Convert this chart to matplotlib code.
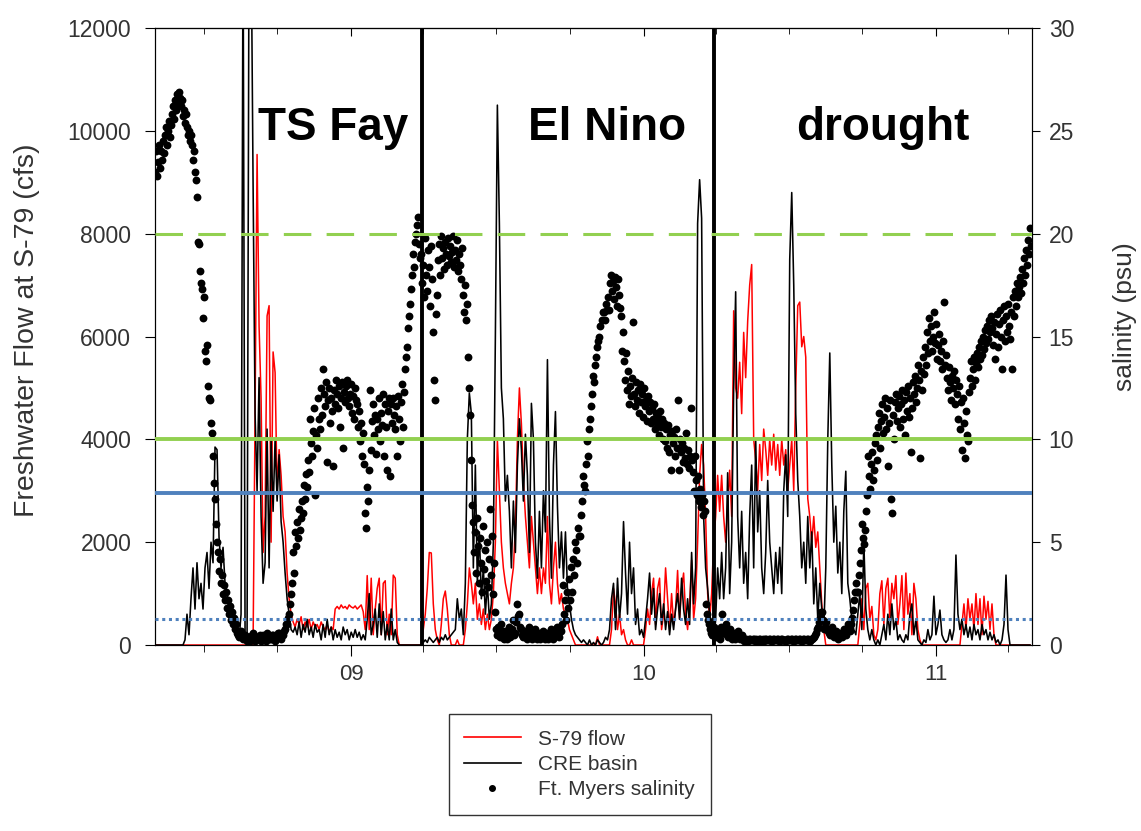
import numpy as np
import pandas as pd
import matplotlib
matplotlib.use('Agg')
import matplotlib.pyplot as plt
import matplotlib.dates as mdates
from matplotlib.lines import Line2D

plt.rcParams['font.family'] = ['Liberation Sans', 'DejaVu Sans']

start = '2008-05-01'

# Ft. Myers salinity (psu), one reading every 30 h
salinity = [
    23.0, 24.0, 22.8, 23.5, 24.3, 23.2, 24.0, 23.6, 24.5, 23.9, 24.8, 25.2, 24.3, 25.0, 25.5, 24.7, 25.3, 25.8, 26.2, 25.6,
    26.5, 26.0, 26.8, 26.3, 26.9, 26.6, 26.2, 26.5, 25.7, 26.0, 25.4, 25.8, 25.2, 24.8, 25.0, 24.5, 24.8, 24.3, 23.6, 24.0,
    23.0, 22.6, 21.8, 19.6, 19.5, 18.2, 17.6, 17.3, 15.9, 16.9, 14.3, 13.8, 14.6, 12.6, 12.0, 11.9, 10.8, 10.3, 9.2, 7.9,
    7.1, 5.9, 5.0, 4.5, 3.6, 4.2, 3.0, 3.4, 2.5, 2.9, 2.2, 2.6, 1.8, 2.2, 1.5, 1.9, 1.2, 1.6, 1.0, 1.3,
    0.8, 1.0, 0.6, 0.5, 0.4, 0.6, 0.7, 0.4, 0.3, 0.5, 0.5, 0.3, 0.2, 0.4, 0.4, 0.2, 0.3, 0.5, 0.6, 0.3,
    0.2, 0.4, 0.4, 0.3, 0.3, 0.5, 0.2, 0.3, 0.5, 0.4, 0.3, 0.2, 0.6, 0.4, 0.4, 0.3, 0.3, 0.5, 0.5, 0.3,
    0.2, 0.4, 0.4, 0.6, 0.6, 0.4, 0.3, 0.5, 0.5, 0.7, 0.8, 1.0, 1.0, 1.3, 1.5, 2.0, 2.5, 3.0, 4.5, 3.5,
    5.5, 4.8, 6.0, 5.2, 6.6, 5.6, 6.2, 7.0, 6.4, 7.8, 7.1, 8.3, 7.7, 9.0, 8.4, 11.0, 9.8, 9.2, 10.4, 11.5,
    7.3, 10.2, 9.6, 12.0, 11.0, 10.5, 12.5, 11.2, 13.4, 12.2, 11.6, 12.8, 8.9, 11.9, 12.5, 10.8, 12.0, 11.4, 8.7, 12.4,
    11.7, 12.9, 12.2, 11.5, 12.6, 10.6, 12.0, 12.8, 9.6, 12.3, 11.8, 12.6, 12.9, 12.0, 11.6, 12.2, 12.7, 11.3, 12.1, 11.0,
    12.5, 11.9, 11.7, 10.6, 11.4, 9.9, 10.8, 9.2, 10.3, 8.8, 6.4, 5.7, 7.7, 7.0, 8.5, 12.4, 9.5, 10.9, 11.7, 10.2,
    11.2, 9.3, 11.0, 10.5, 12.0, 9.9, 11.3, 10.7, 12.2, 9.2, 11.7, 10.6, 8.5, 11.4, 12.0, 8.2, 11.7, 10.8, 12.0, 11.2,
    10.5, 11.6, 9.2, 12.1, 11.0, 9.9, 11.8, 12.7, 10.6, 12.3, 13.4, 14.0, 14.5, 15.4, 16.0, 16.6, 17.3, 18.0, 19.0, 18.4,
    19.6, 20.0, 20.4, 20.8, 19.5, 18.8, 19.0, 17.6, 18.5, 16.9, 19.8, 18.0, 17.2, 19.2, 18.4, 16.5, 19.4, 17.8, 15.2, 12.9,
    11.9, 16.1, 17.0, 18.7, 19.5, 18.0, 19.9, 18.8, 19.3, 18.3, 19.6, 19.0, 18.5, 19.8, 18.9, 19.4, 18.6, 19.1, 19.9, 18.4,
    19.2, 18.7, 19.7, 18.2, 19.0, 18.5, 17.8, 19.3, 17.0, 16.2, 17.5, 15.8, 16.6, 14.0, 12.5, 11.2, 9.0, 6.8, 6.0, 4.5,
    5.5, 3.5, 6.2, 4.8, 3.0, 5.2, 4.0, 2.6, 5.8, 3.7, 4.6, 3.1, 5.0, 2.8, 4.2, 6.6, 3.4, 5.3, 2.5, 4.0,
    1.6, 0.8, 0.5, 0.9, 0.6, 0.4, 1.0, 0.7, 0.4, 0.3, 0.7, 0.5, 0.3, 0.6, 0.9, 0.4, 0.5, 0.8, 1.2, 0.5,
    0.6, 1.1, 2.0, 1.4, 1.5, 0.9, 0.8, 0.5, 0.4, 0.6, 0.7, 0.4, 0.3, 0.5, 0.9, 0.6, 0.5, 0.3, 0.4, 0.6,
    0.8, 0.5, 0.3, 0.4, 0.6, 0.3, 0.4, 0.6, 0.7, 0.5, 0.3, 0.4, 0.6, 0.3, 0.4, 0.5, 0.8, 0.4, 0.3, 0.6,
    0.5, 0.7, 0.9, 0.5, 0.4, 0.8, 0.7, 1.0, 2.9, 1.5, 2.2, 1.2, 2.6, 1.8, 3.2, 2.2, 3.8, 2.6, 4.2, 3.4,
    5.0, 4.6, 4.0, 5.7, 5.3, 5.3, 6.3, 7.0, 8.2, 7.8, 7.5, 8.8, 9.9, 9.2, 10.5, 11.0, 11.6, 12.2, 13.1, 12.8,
    13.6, 14.0, 14.5, 14.8, 15.0, 15.5, 15.8, 16.2, 16.2, 15.8, 16.6, 16.3, 16.9, 16.3, 17.6, 18.0, 17.2, 17.7, 16.8, 17.9,
    17.4, 16.5, 17.8, 17.0, 16.4, 16.0, 14.3, 15.2, 13.8, 12.9, 14.2, 12.4, 13.3, 11.7, 12.6, 12.1, 13.0, 15.7, 12.2, 11.6,
    12.8, 11.9, 12.4, 11.3, 12.7, 11.8, 12.2, 11.1, 12.5, 11.6, 11.9, 10.9, 12.1, 11.4, 11.8, 10.8, 11.5, 11.0, 11.7, 10.5,
    11.3, 10.8, 11.1, 10.2, 11.4, 10.6, 11.0, 10.0, 10.8, 9.9, 10.5, 9.6, 10.7, 9.4, 10.2, 8.5, 10.4, 9.8, 10.1, 9.2,
    10.5, 9.6, 11.9, 8.5, 10.0, 9.4, 9.8, 8.9, 9.6, 9.1, 10.3, 8.8, 9.5, 8.6, 9.2, 11.5, 9.0, 8.4, 7.5, 9.2,
    8.0, 7.3, 8.2, 7.0, 7.6, 6.7, 7.3, 6.3, 7.0, 6.5, 2.0, 1.5, 1.2, 1.0, 0.8, 0.6, 0.5, 0.7, 0.9, 0.6,
    0.4, 0.5, 0.7, 0.4, 0.3, 0.9, 1.5, 0.8, 0.6, 0.7, 1.0, 0.5, 0.4, 0.6, 0.8, 0.4, 0.3, 0.5, 0.6, 0.3,
    0.4, 0.5, 0.7, 0.4, 0.3, 0.4, 0.5, 0.3, 0.2, 0.3, 0.3, 0.2, 0.2, 0.3, 0.3, 0.25, 0.25, 0.3, 0.3, 0.2,
    0.3, 0.25, 0.2, 0.3, 0.3, 0.2, 0.25, 0.3, 0.2, 0.3, 0.3, 0.25, 0.25, 0.3, 0.3, 0.2, 0.2, 0.3, 0.3, 0.25,
    0.25, 0.3, 0.3, 0.2, 0.2, 0.3, 0.3, 0.25, 0.25, 0.2, 0.2, 0.3, 0.3, 0.25, 0.25, 0.3, 0.3, 0.2, 0.2, 0.3,
    0.3, 0.25, 0.25, 0.3, 0.3, 0.2, 0.2, 0.3, 0.3, 0.25, 0.25, 0.3, 0.3, 0.2, 0.2, 0.3, 0.3, 0.35, 0.4, 0.5,
    0.6, 0.8, 0.9, 1.1, 1.3, 1.6, 1.6, 1.2, 0.8, 0.9, 1.1, 0.8, 0.7, 0.6, 0.5, 0.7, 0.9, 0.6, 0.4, 0.5,
    0.7, 0.5, 0.3, 0.4, 0.6, 0.5, 0.4, 0.6, 0.8, 0.6, 0.5, 0.7, 1.0, 0.8, 0.7, 1.0, 1.3, 1.7, 2.2, 2.6,
    3.0, 2.6, 2.6, 3.4, 4.0, 4.6, 5.9, 5.2, 4.9, 5.6, 6.5, 7.3, 9.2, 8.2, 7.6, 8.8, 9.4, 8.0, 8.5, 9.8,
    10.2, 9.0, 10.6, 11.3, 9.6, 10.9, 11.7, 10.3, 11.1, 12.0, 10.5, 11.5, 8.7, 10.8, 11.9, 7.1, 6.4, 11.2, 10.0, 11.8,
    12.2, 10.9, 11.5, 12.1, 10.6, 11.7, 12.4, 11.0, 11.9, 10.2, 12.3, 11.4, 12.6, 11.1, 12.0, 9.4, 11.5, 12.8, 12.2, 13.1,
    11.8, 12.5, 13.6, 12.9, 9.1, 13.3, 12.4, 14.0, 13.2, 14.5, 13.6, 15.2, 14.2, 15.9, 14.8, 15.5, 14.3, 15.0, 16.2, 14.7,
    15.6, 13.9, 14.6, 15.1, 13.8, 14.3, 13.4, 14.8, 16.7, 13.6, 14.1, 13.0, 12.4, 13.5, 12.8, 11.9, 13.1, 12.5, 13.3, 11.7,
    12.9, 12.2, 11.0, 12.6, 10.5, 11.8, 9.5, 12.0, 10.8, 9.1, 11.4, 10.2, 9.9, 12.3, 13.0, 13.8, 12.6, 13.4, 14.0, 12.9,
    13.7, 14.2, 13.5, 14.5, 13.9, 14.8, 14.1, 15.0, 14.4, 15.3, 14.7, 15.5, 14.9, 15.8, 15.2, 16.0, 15.4, 14.6, 15.7, 13.9,
    15.1, 16.1, 14.5, 15.6, 16.3, 15.0, 13.4, 15.8, 16.5, 14.8, 16.0, 15.2, 16.6, 15.5, 14.9, 16.2, 13.4, 16.9, 16.0, 17.2,
    16.5, 17.6, 16.9, 17.4, 17.9, 17.1, 18.3, 17.6, 18.8, 18.0, 19.2, 18.5, 19.7, 19.0, 20.3, 19.4,
]

# CRE basin flow (cfs), one reading every 60 h
cre_flow = [
    0, 0, 0, 0, 0, 0, 0, 0, 0, 0,
    0, 0, 0, 0, 0, 100, 600, 200, 900, 1500,
    700, 1600, 900, 1200, 700, 1500, 1800, 1100, 2000, 1600,
    3850, 3800, 2100, 1500, 1900, 1200, 1000, 800, 600, 400,
    250, 150, 100, 600, 14000, 200, 100, 14000, 14000, 9000,
    4500, 3000, 5200, 2500, 1200, 1600, 4200, 1500, 4000, 2600,
    4000, 2800, 3700, 2400, 2000, 1400, 900, 600, 300, 250,
    350, 200, 450, 150, 400, 250, 500, 200, 350, 150,
    400, 250, 300, 100, 400, 150, 500, 200, 350, 100,
    300, 150, 250, 100, 350, 200, 300, 100, 250, 150,
    300, 150, 250, 100, 200, 100, 500, 1000, 200, 400,
    700, 150, 800, 200, 650, 100, 400, 100, 700, 100,
    300, 50, 0, 0, 0, 0, 0, 0, 0, 0,
    0, 0, 0, 0, 50, 100, 50, 150, 100, 50,
    100, 150, 50, 150, 100, 200, 100, 150, 200, 250,
    300, 900, 500, 700, 200, 1200, 4000, 4900, 4500, 1500,
    3500, 1200, 2200, 900, 1500, 600, 1200, 500, 800, 2000,
    6000, 10500, 8200, 5000, 4400, 2800, 3300, 2600, 1500, 2800,
    1800, 3500, 4400, 3800, 2800, 4100, 3300, 1800, 4700, 4000,
    2000, 1300, 2600, 1500, 3000, 2200, 5550, 2500, 1300, 3500,
    4540, 2700, 1500, 2200, 1300, 2200, 1100, 800, 500, 300,
    200, 150, 100, 50, 100, 50, 0, 100, 0, 50,
    0, 100, 50, 0, 50, 150, 100, 300, 900, 1200,
    300, 1300, 500, 1000, 2400, 1400, 600, 2000, 1000, 1500,
    400, 700, 200, 300, 150, 500, 900, 1400, 600, 1100,
    300, 700, 1000, 400, 800, 300, 650, 200, 600, 300,
    700, 1000, 500, 1300, 700, 400, 900, 400, 1800, 800,
    1500, 8200, 9050, 8300, 2500, 1500, 1100, 600, 300, 0,
    500, 1500, 900, 1800, 900, 1500, 3350, 1000, 2000, 5000,
    6870, 2500, 1500, 2600, 1200, 1800, 900, 2500, 3500, 1500,
    4000, 2200, 3000, 1500, 1000, 1800, 3200, 2000, 1500, 1000,
    1800, 1200, 1900, 1000, 3000, 3700, 2500, 7500, 8800, 7000,
    4500, 3200, 2500, 1500, 2000, 1200, 2500, 1500, 2200, 800,
    1500, 500, 1200, 700, 300, 1500, 4000, 5680, 3500, 2000,
    2700, 1400, 2000, 1000, 2600, 3380, 1200, 900, 500, 300,
    200, 600, 1000, 300, 2000, 700, 300, 100, 300, 100,
    0, 100, 0, 200, 400, 100, 600, 200, 800, 300,
    500, 100, 200, 100, 50, 200, 100, 600, 800, 200,
    500, 100, 50, 0, 100, 50, 300, 100, 200, 950,
    200, 400, 680, 200, 100, 50, 100, 300, 100, 300,
    1750, 600, 300, 500, 200, 400, 150, 350, 100, 400,
    200, 300, 100, 400, 200, 300, 100, 250, 100, 200,
    50, 100, 0, 100, 400, 1360, 300, 0, 0, 0,
    0, 0, 0, 0, 0, 0, 0, 0,
]

# S-79 flow (cfs), one reading every 60 h
s79_flow = [
    0, 0, 0, 0, 0, 0, 0, 0, 0, 0,
    0, 0, 0, 0, 0, 0, 0, 0, 0, 0,
    0, 0, 0, 0, 0, 0, 0, 0, 0, 0,
    0, 0, 0, 0, 0, 0, 0, 0, 0, 0,
    0, 0, 0, 0, 0, 0, 0, 0, 0, 0,
    4500, 9540, 6200, 4800, 1800, 2500, 6400, 6600, 2000, 5700,
    5300, 3000, 3800, 3300, 2500, 2200, 1400, 900, 600, 450,
    350, 500, 400, 550, 300, 450, 350, 500, 300, 450,
    350, 400, 300, 450, 350, 300, 400, 250, 350, 300,
    700, 750, 700, 780, 720, 750, 700, 780, 740, 720,
    760, 700, 740, 780, 650, 300, 1350, 300, 1300, 200,
    700, 1100, 1300, 200, 1200, 1250, 200, 600, 200, 1360,
    1300, 200, 0, 0, 0, 0, 0, 0, 0, 0,
    0, 0, 0, 0, 300, 600, 1100, 1800, 1790, 800,
    300, 100, 0, 400, 900, 1050, 700, 200, 0, 0,
    0, 100, 0, 0, 0, 300, 800, 1500, 1200, 800,
    1200, 500, 800, 400, 700, 300, 600, 300, 500, 1000,
    2000, 4000, 3000, 2000, 1500, 1200, 1000, 800, 1200, 1500,
    2300, 4000, 5000, 4300, 3200, 2500, 2000, 1500, 2500, 2000,
    1500, 1000, 1500, 1000, 1500, 1200, 2500, 1200, 800, 1500,
    2000, 1200, 800, 1000, 700, 600, 500, 300, 200, 100,
    0, 0, 0, 0, 0, 0, 0, 0, 0, 0,
    0, 160, 0, 0, 0, 0, 0, 0, 300, 1100,
    800, 300, 600, 200, 300, 100, 0, 0, 100, 0,
    0, 0, 0, 0, 0, 300, 700, 400, 1000, 1300,
    400, 1100, 1300, 300, 600, 1500, 900, 300, 1000, 400,
    700, 1450, 500, 1100, 1400, 600, 300, 800, 1650, 500,
    900, 2000, 3300, 3900, 3500, 2500, 1000, 500, 1000, 2000,
    2500, 3300, 2600, 3300, 2500, 2000, 2700, 3400, 2500, 6500,
    5000, 4800, 5500, 4500, 6080, 5200, 6300, 7000, 7400, 4000,
    3600, 3000, 3900, 3200, 4200, 3800, 3300, 4000, 3500, 4100,
    3400, 3900, 3300, 4000, 3500, 3800, 3000, 3500, 4000, 3000,
    5000, 6600, 6670, 5800, 6000, 5600, 2850, 2500, 2000, 2500,
    1900, 2200, 1500, 800, 300, 0, 0, 0, 0, 0,
    0, 0, 0, 0, 0, 0, 0, 0, 0, 0,
    0, 0, 400, 900, 300, 1100, 1200, 500, 750, 200,
    100, 300, 1000, 1250, 400, 1100, 1300, 500, 1200, 900,
    1350, 400, 800, 1350, 300, 1400, 600, 1000, 200, 1200,
    900, 300, 100, 0, 0, 0, 0, 0, 0, 0,
    0, 0, 0, 0, 0, 0, 0, 0, 0, 0,
    0, 0, 0, 400, 800, 300, 900, 500, 800, 300,
    1000, 400, 900, 200, 950, 500, 850, 300, 800, 200,
    0, 0, 0, 0, 0, 0, 0, 0, 0, 0,
    0, 0, 0, 0, 0, 0, 0, 0,
]

# period dividers and period names
dividers = ['2009-03-30', '2010-03-30']
periods = ['TS Fay', 'El Nino', 'drought']
period_mid = ['2008-12-10', '2009-11-16', '2010-10-27']

# salinity thresholds (psu) and flow thresholds (cfs)
sal_limits = [20, 10]
flow_limits = [2950, 500]

t_sal = pd.date_range(start, periods=len(salinity), freq='30h')
t_flow = pd.date_range(start, periods=len(cre_flow), freq='60h')

fig = plt.figure(figsize=(11.41, 8.31), dpi=100)
ax = fig.add_axes([0.1358, 0.2238, 0.7687, 0.7425])
ax2 = ax.twinx()

ax.plot(t_flow, s79_flow, color='red', lw=1.1, zorder=2)
ax.plot(t_flow, cre_flow, color='black', lw=1.15, zorder=3)
for d in dividers:
    ax.axvline(pd.Timestamp(d), color='black', lw=2.8, zorder=4)

ax2.scatter(t_sal, salinity, s=32, color='black', zorder=3, linewidths=0)

# reference lines (on the salinity axis so they sit above the dots)
ax2.axhline(sal_limits[0], color='#92D050', lw=2.2, dashes=(9, 5), zorder=5)
ax2.axhline(sal_limits[1], color='#92D050', lw=2.8, zorder=5)
ax2.axhline(flow_limits[0] / 400, color='#4F81BD', lw=2.8, zorder=5)
ax2.axhline(flow_limits[1] / 400, color='#4F81BD', lw=2.2, ls=(0, (1, 1.2)), zorder=5)

ax.set_xlim(pd.Timestamp('2008-05-01'), pd.Timestamp('2011-05-01'))
ax.set_ylim(0, 12000)
ax2.set_ylim(0, 30)
ax.set_yticks(np.arange(0, 12001, 2000))
ax2.set_yticks(np.arange(0, 31, 5))

ax.xaxis.set_major_locator(mdates.YearLocator())
ax.xaxis.set_major_formatter(mdates.DateFormatter('%y'))
ax.xaxis.set_minor_locator(mdates.MonthLocator(bymonth=[1, 4, 7, 10]))

tc = '#333333'
ax.tick_params(axis='x', which='major', direction='out', length=8, labelsize=16, labelcolor=tc, pad=6)
ax.tick_params(axis='x', which='minor', direction='out', length=5)
ax.tick_params(axis='y', direction='out', length=7, labelsize=16.5, labelcolor=tc, pad=10)
ax2.tick_params(axis='y', direction='out', length=6, labelsize=16.5, labelcolor=tc, pad=6)

top = ax.secondary_xaxis('top')
top.xaxis.set_major_locator(mdates.YearLocator())
top.xaxis.set_minor_locator(mdates.MonthLocator(bymonth=[1, 4, 7, 10]))
top.tick_params(which='major', direction='in', length=6, labeltop=False)
top.tick_params(which='minor', direction='in', length=4)

ax.set_ylabel('Freshwater Flow at S-79 (cfs)', fontsize=20.5, color=tc)
ax.yaxis.set_label_coords(-0.131, 0.510)
ax2.set_ylabel('salinity (psu)', fontsize=19, color=tc)
ax2.yaxis.set_label_coords(1.092, 0.532)

for name, mid in zip(periods, period_mid):
    ax.text(pd.Timestamp(mid), 10050, name, fontsize=33, fontweight='bold',
            ha='center', va='center', zorder=6)

handles = [Line2D([], [], color='red', lw=1.2),
           Line2D([], [], color='black', lw=1.2),
           Line2D([], [], color='black', marker='o', ms=4, ls='none')]
fig.legend(handles, ['S-79 flow', 'CRE basin', 'Ft. Myers salinity'],
           loc='center', bbox_to_anchor=(0.508, 0.08), fontsize=15,
           frameon=True, fancybox=False, edgecolor='black', handlelength=2.7,
           handletextpad=0.85, labelspacing=0.3, borderpad=0.75, labelcolor=tc)

fig.savefig('out.png', dpi=100)
